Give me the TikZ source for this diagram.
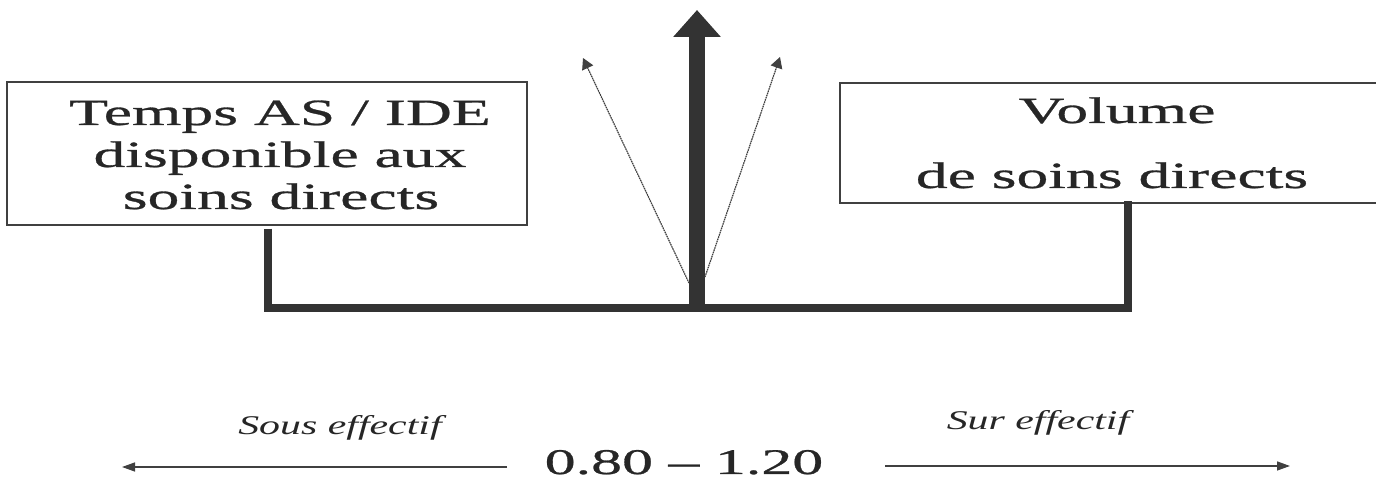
\documentclass[tikz,border=0pt]{standalone}
\usepackage{fontspec}
\setmainfont{Liberation Serif}
\newfontfamily\widefont[FakeStretch=1.72,FakeBold=0.8]{Liberation Serif}
\newfontfamily\wideital[FakeStretch=1.55]{Liberation Serif Italic}
\usetikzlibrary{arrows.meta}
\begin{document}
\begin{tikzpicture}[x=1pt,y=1pt,
  boxframe/.style={draw=black!75, line width=1.3pt, inner sep=0pt},
  boxtext/.style={anchor=base, inner sep=0pt, text=black!85, font=\widefont\fontsize{37}{40}\selectfont},
  axistext/.style={anchor=base, inner sep=0pt, text=black!85, font=\wideital\fontsize{27}{30}\selectfont},
  rangetext/.style={anchor=base, inner sep=0pt, text=black!85, font=\widefont\fontsize{36}{40}\selectfont},
  bracket/.style={draw=black!80, line width=8pt, line join=miter},
  mainarrow/.style={draw=black!80, line width=16pt, -{Triangle[width=46pt,length=27pt]}},
  thinarrow/.style={draw=black!75, line width=1.2pt, dash pattern=on 1.6pt off 0.7pt, -{Triangle[width=12pt,length=11pt]}},
  axisarrow/.style={draw=black!75, line width=1.4pt, -{Triangle[width=9pt,length=13pt]}}
]
\useasboundingbox (0,0) rectangle (1376,481);

% boxes
\node[boxframe, minimum width=520pt, minimum height=143pt] (L) at (267,327.5) {};
\node[boxframe, minimum width=540pt, minimum height=120pt] (R) at (1110,338) {};

% box texts
\node[boxtext] (L1) at (280,356) {Temps AS / IDE};
\node[boxtext] (L2) at (280,314) {disponible aux};
\node[boxtext] (L3) at (281,272) {soins directs};
\node[boxtext] (R1) at (1117,358) {Volume};
\node[boxtext] (R2) at (1112,293) {de soins directs};

% junction coordinates
\coordinate (jl) at (268,173);
\coordinate (jc) at (697,173);
\coordinate (jr) at (1128,173);
\coordinate (tc) at (697,471);
\coordinate (tl) at (583,423);
\coordinate (tr) at (780,424);
\coordinate (sl) at (689,198);
\coordinate (sr) at (705,204);

% bracket
\draw[bracket] ([yshift=-3pt]L.south -| jl) -- (jl) -- (jr) -- ([yshift=3pt]R.south -| jr);

% arrows up
\draw[mainarrow] ([yshift=-4pt]jc) -- (tc);
\draw[thinarrow] (sl) -- (tl);
\draw[thinarrow] (sr) -- (tr);

% bottom axis
\node[axistext] (sous) at (340,46) {Sous effectif};
\node[axistext] (sur) at (1038,51) {Sur effectif};
\node[rangetext] (range) at (684,7) {0.80 – 1.20};
\coordinate (al0) at (507,14);
\coordinate (al) at (122,14);
\coordinate (ar0) at (885,15);
\coordinate (ar) at (1290,15);
\draw[axisarrow] (al0) -- (al);
\draw[axisarrow] (ar0) -- (ar);
\end{tikzpicture}
\end{document}
